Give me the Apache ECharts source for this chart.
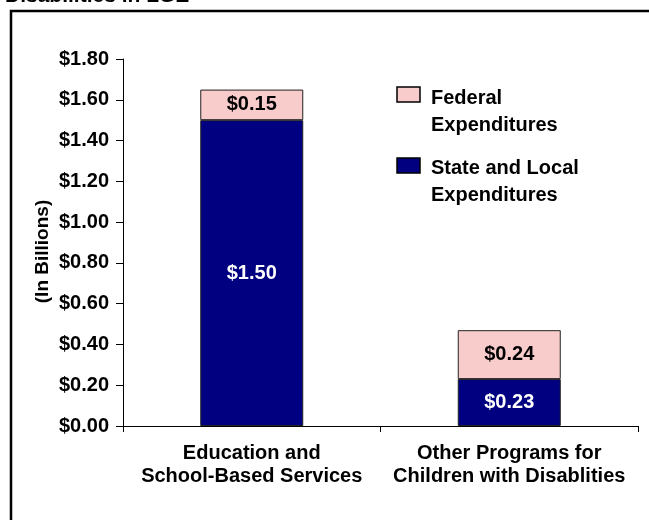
<!DOCTYPE html>
<html>
<head>
<meta charset="utf-8">
<script src="https://cdn.jsdelivr.net/npm/echarts@6/dist/echarts.min.js"></script>
<style>html,body{margin:0;padding:0;background:#fff}#c{width:649px;height:520px}</style>
</head>
<body>
<div id="c"></div>
<script>
var categories = ['Education and\nSchool-Based Services', 'Other Programs for\nChildren with Disablities'];
var stateLocal = [1.50, 0.23];
var federal = [0.15, 0.24];
var seriesNames = ['State and Local\nExpenditures', 'Federal\nExpenditures'];
var yTicks = [0, 0.2, 0.4, 0.6, 0.8, 1.0, 1.2, 1.4, 1.6, 1.8];
var titleText = 'Disabilities in LGE';

var FONT = '"Liberation Sans", Arial, sans-serif';
var NAVY = '#000080';
var PINK = '#f8cccb';
var FS = 20;

var chart = echarts.init(document.getElementById('c'), null, {renderer: 'canvas'});
function money(v) { return '$' + v.toFixed(2); }

chart.setOption({
  animation: false,
  backgroundColor: '#fff',
  title: {
    text: titleText, left: 0, top: -19,
    textStyle: {fontFamily: FONT, fontWeight: 'bold', fontSize: 21, color: '#000'}
  },
  grid: {left: 123, right: 11, top: 59, bottom: 94, containLabel: false},
  xAxis: {
    type: 'category', data: categories,
    axisLine: {lineStyle: {color: '#000', width: 1}},
    axisTick: {show: true, length: 6, lineStyle: {color: '#000'}},
    axisLabel: {interval: 0, hideOverlap: false, fontFamily: FONT, fontWeight: 'bold', fontSize: FS, color: '#000', lineHeight: 23, margin: 16}
  },
  yAxis: {
    type: 'value', min: 0, max: yTicks[yTicks.length - 1], interval: yTicks[1],
    name: '(In Billions)', nameLocation: 'middle', nameRotate: 90, nameGap: 71, nameMoveOverlap: false,
    nameTextStyle: {fontFamily: FONT, fontWeight: 'bold', fontSize: 19, color: '#000', padding: [0, 0, 0, -18]},
    axisLine: {show: true, lineStyle: {color: '#000', width: 1}},
    axisTick: {show: true, length: 7, lineStyle: {color: '#000'}},
    splitLine: {show: false},
    axisLabel: {fontFamily: FONT, fontWeight: 'bold', fontSize: FS, color: '#000', margin: 14, formatter: money}
  },
  series: [
    {
      name: seriesNames[0], type: 'bar', stack: 'total', data: stateLocal, barWidth: '40%',
      itemStyle: {color: NAVY, borderColor: '#222', borderWidth: 1},
      label: {show: true, position: 'inside', formatter: function (p) { return money(p.value); },
        fontFamily: FONT, fontWeight: 'bold', fontSize: FS, color: '#fff'}
    },
    {
      name: seriesNames[1], type: 'bar', stack: 'total', data: federal, barWidth: '40%',
      itemStyle: {color: PINK, borderColor: '#222', borderWidth: 1},
      label: {show: true, position: 'inside', formatter: function (p) { return money(p.value); },
        fontFamily: FONT, fontWeight: 'bold', fontSize: FS, color: '#000'}
    }
  ],
  graphic: [
    {type: 'rect', shape: {x: 11, y: 11, width: 700, height: 600}, style: {fill: 'none', stroke: '#000', lineWidth: 2.5}, silent: true},
    {type: 'rect', shape: {x: 397, y: 87, width: 23, height: 15}, style: {fill: PINK, stroke: '#000', lineWidth: 1.5}},
    {type: 'text', x: 431, y: 85, style: {text: seriesNames[1], font: 'bold ' + FS + 'px ' + FONT, fill: '#000', lineHeight: 27}},
    {type: 'rect', shape: {x: 397, y: 158, width: 23, height: 15}, style: {fill: NAVY, stroke: '#000', lineWidth: 1.5}},
    {type: 'text', x: 431, y: 155, style: {text: seriesNames[0], font: 'bold ' + FS + 'px ' + FONT, fill: '#000', lineHeight: 27}}
  ]
});
</script>
</body>
</html>
